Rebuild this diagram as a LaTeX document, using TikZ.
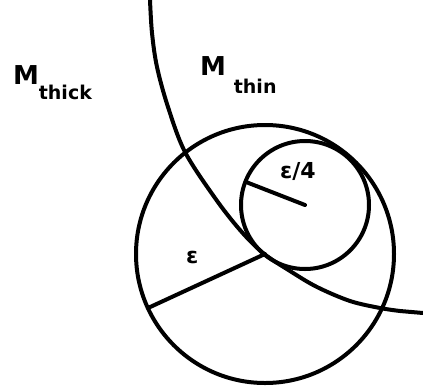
\documentclass[tikz,border=0pt]{standalone}
\usepackage{fontspec}
\setmainfont{DejaVu Sans}
\begin{document}
\begin{tikzpicture}[x=1pt, y=-1pt, line width=4pt, line cap=round, line join=round,
  lbl/.style={inner sep=0pt, anchor=base west, font=\bfseries\fontsize{26}{26}\selectfont},
  eps/.style={inner sep=0pt, anchor=base west, font=\bfseries\fontsize{22}{22}\selectfont}]
\useasboundingbox (0,0) rectangle (423,389);
\coordinate (cbig) at (265,254);\coordinate (csmall) at (305,205);
\coordinate (bigend) at (148,308);\coordinate (smallend) at (246,182);
\coordinate (curvetop) at (150,0);\coordinate (curvebend) at (400,311);\coordinate (curveend) at (423,313);
\draw plot[smooth, tension=0.55] coordinates {(150,0) (152,33) (157,67) (168,107) (185,152) (215,198) (240,230) (263,253) (290,271) (317,287) (350,301) (380,308) (400,311)} -- (curveend);
\draw (cbig) circle[radius=129];\draw (csmall) circle[radius=64];
\draw (cbig) -- (bigend);\draw (csmall) -- (smallend);
\node[lbl] (mthick) at (11,84) {M\raisebox{-15pt}{\fontsize{19}{19}\selectfont thick}};
\node[lbl] (mthin) at (198,75) {M\hspace{8pt}\raisebox{-18pt}{\fontsize{19}{19}\selectfont thin}};
\node[eps] (epsbig) at (184,263) {ε};\node[eps] (epssmall) at (278,178) {ε/4};
\end{tikzpicture}
\end{document}
